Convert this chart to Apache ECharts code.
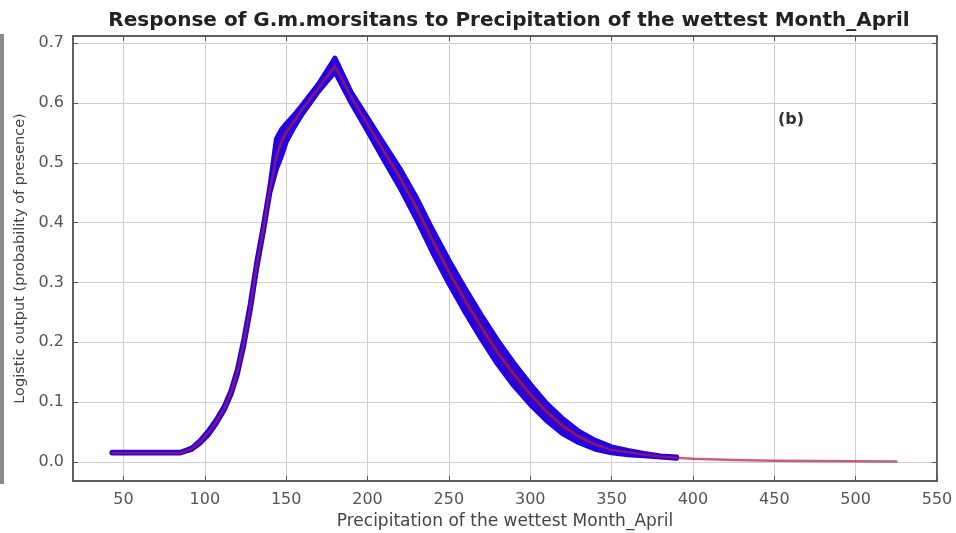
<!DOCTYPE html>
<html>
<head>
<meta charset="utf-8">
<script src="https://cdn.jsdelivr.net/npm/echarts@6/dist/echarts.min.js"></script>
<style>html,body{margin:0;padding:0;background:#fff;}#c{width:956px;height:533px;}</style>
</head>
<body>
<div id="c"></div>
<script>
const titleText = "Response of G.m.morsitans to Precipitation of the wettest Month_April";
const xAxisName = "Precipitation of the wettest Month_April";
const yAxisName = "Logistic output (probability of presence)";
const panelLabel = "(b)";
const xTicks = [50, 100, 150, 200, 250, 300, 350, 400, 450, 500, 550];
const yTicks = [0, 0.1, 0.2, 0.3, 0.4, 0.5, 0.6, 0.7];

const precip = [43, 60, 85, 92, 97, 102, 107, 112, 116, 120, 124, 128, 132, 136, 140, 144, 147, 150, 155, 160, 170, 180, 190, 200, 210, 220, 230, 240, 250, 260, 270, 280, 290, 300, 310, 320, 330, 340, 350, 360, 370, 380, 390, 400, 425, 450, 475, 500, 525];
const meanResp = [0.015, 0.015, 0.015, 0.022, 0.033, 0.048, 0.067, 0.09, 0.115, 0.15, 0.2, 0.26, 0.33, 0.39, 0.455, 0.51, 0.535, 0.55, 0.57, 0.59, 0.625, 0.662, 0.61, 0.565, 0.52, 0.475, 0.425, 0.37, 0.318, 0.27, 0.225, 0.183, 0.146, 0.113, 0.084, 0.06, 0.042, 0.029, 0.02, 0.016, 0.012, 0.009, 0.007, 0.005, 0.003, 0.002, 0.0015, 0.001, 0.0005];
const lowerResp = [0.015, 0.015, 0.015, 0.021, 0.031, 0.045, 0.064, 0.087, 0.112, 0.146, 0.195, 0.255, 0.325, 0.385, 0.45, 0.49, 0.51, 0.535, 0.56, 0.582, 0.62, 0.652, 0.6, 0.553, 0.505, 0.458, 0.406, 0.35, 0.298, 0.25, 0.205, 0.163, 0.127, 0.096, 0.069, 0.047, 0.032, 0.021, 0.015, 0.012, 0.01, 0.008, 0.006, null, null, null, null, null, null];
const upperResp = [0.016, 0.016, 0.016, 0.023, 0.035, 0.051, 0.07, 0.093, 0.118, 0.154, 0.205, 0.265, 0.335, 0.395, 0.46, 0.54, 0.555, 0.565, 0.58, 0.597, 0.632, 0.675, 0.618, 0.575, 0.532, 0.49, 0.442, 0.388, 0.337, 0.29, 0.245, 0.203, 0.165, 0.13, 0.098, 0.072, 0.051, 0.036, 0.025, 0.019, 0.014, 0.01, 0.008, null, null, null, null, null, null];

const lowerData = precip.map((x, i) => [x, lowerResp[i]]).filter(p => p[1] != null);
const upperData = precip.map((x, i) => [x, upperResp[i]]).filter(p => p[1] != null);
const meanData = precip.map((x, i) => [x, meanResp[i]]);

const chart = echarts.init(document.getElementById('c'), null, {renderer: 'canvas'});
const gridLine = {show: true, lineStyle: {color: '#cfcfcf', width: 1}};
const labelFont = {fontFamily: 'DejaVu Sans', fontSize: 16, color: '#555'};
const bandColor = '#2400e6';
chart.setOption({
  animation: false,
  backgroundColor: '#fff',
  title: {
    text: titleText, left: 504, textAlign: 'center', top: 6,
    textStyle: {fontFamily: 'DejaVu Sans', fontWeight: 'bold', fontSize: 20, color: '#222'}
  },
  grid: {left: 73, right: 19, top: 36, bottom: 52, show: true, borderColor: '#555', borderWidth: 1.5,
         backgroundColor: 'transparent', containLabel: false, outerBoundsMode: 'none'},
  xAxis: [{
    type: 'value', min: 19, max: 550,
    name: xAxisName, nameLocation: 'middle', nameGap: 31,
    nameTextStyle: {fontFamily: 'DejaVu Sans', fontSize: 17, color: '#444'},
    axisLine: {show: true, onZero: false, lineStyle: {color: '#555', width: 1.5}},
    axisTick: {show: true, inside: true, length: 5, customValues: xTicks, lineStyle: {color: '#555'}},
    axisLabel: Object.assign({customValues: xTicks, margin: 11}, labelFont),
    splitLine: gridLine
  }, {
    type: 'value', min: 19, max: 550, position: 'top',
    axisLine: {show: true, onZero: false, lineStyle: {color: '#555', width: 1.5}},
    axisTick: {show: true, inside: true, length: 5, customValues: xTicks, lineStyle: {color: '#555'}},
    axisLabel: {show: false}, splitLine: {show: false}
  }],
  yAxis: [{
    type: 'value', min: -0.032, max: 0.712,
    name: yAxisName, nameLocation: 'middle', nameGap: 42, nameRotate: 90,
    nameTextStyle: {fontFamily: 'DejaVu Sans', fontSize: 14.5, color: '#444'},
    axisLine: {show: true, onZero: false, lineStyle: {color: '#555', width: 1.5}},
    axisTick: {show: true, inside: true, length: 5, customValues: yTicks, lineStyle: {color: '#555'}},
    axisLabel: Object.assign({customValues: yTicks, margin: 9, formatter: v => v.toFixed(1)}, labelFont),
    splitLine: gridLine
  }, {
    type: 'value', min: -0.032, max: 0.712, position: 'right',
    axisLine: {show: true, onZero: false, lineStyle: {color: '#555', width: 1.5}},
    axisTick: {show: true, inside: true, length: 5, customValues: yTicks, lineStyle: {color: '#555'}},
    axisLabel: {show: false}, splitLine: {show: false}
  }],
  series: [{
    type: 'custom', data: [0], z: 2, silent: true,
    renderItem: function (params, api) {
      const pts = [];
      for (let i = 0; i < upperData.length; i++) pts.push(api.coord(upperData[i]));
      for (let i = lowerData.length - 1; i >= 0; i--) pts.push(api.coord(lowerData[i]));
      return {type: 'polygon', shape: {points: pts}, style: {fill: '#3c06b4', stroke: null}};
    }
  }, {
    type: 'line', data: lowerData, showSymbol: false,
    lineStyle: {color: bandColor, width: 5, cap: 'round', join: 'round'}, z: 3
  }, {
    type: 'line', data: upperData, showSymbol: false,
    lineStyle: {color: bandColor, width: 5, cap: 'round', join: 'round'}, z: 3
  }, {
    type: 'line', data: meanData, showSymbol: false,
    lineStyle: {color: '#a8204f', width: 2.5, opacity: 0.7, cap: 'round', join: 'round'}, z: 4
  }],
  graphic: [{
    type: 'rect', left: 0, top: 34, shape: {width: 4, height: 450}, style: {fill: '#8a8a8a'}
  }, {
    type: 'text', left: 778, top: 112,
    style: {text: panelLabel, font: 'bold 16px "DejaVu Sans"', fill: '#333'}
  }]
});
</script>
</body>
</html>
